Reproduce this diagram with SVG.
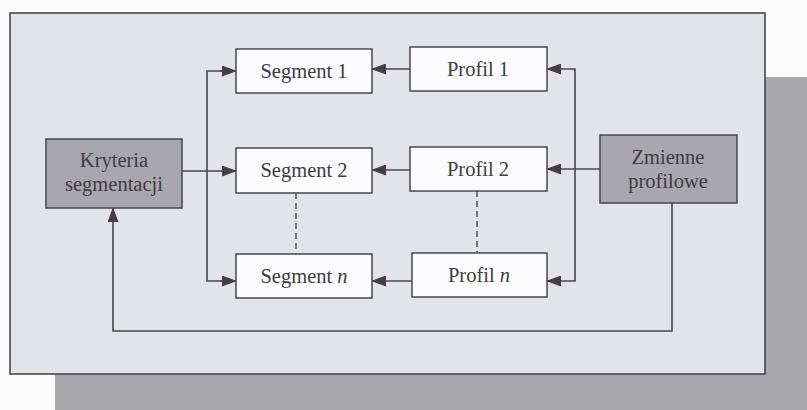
<svg xmlns="http://www.w3.org/2000/svg" width="807" height="410" viewBox="0 0 807 410">
<defs>
<style>
.box{fill:#fbfbfd;stroke:#4a4550;stroke-width:1.5}
.dark{fill:#a8a6ae;stroke:#4a4550;stroke-width:1.5}
.t{font-family:"Liberation Serif","Times New Roman",serif;font-size:20.5px;fill:#403b46;text-anchor:middle}
.ln{fill:none;stroke:#4a4550;stroke-width:1.6}
.dash{fill:none;stroke:#4a4550;stroke-width:1.4;stroke-dasharray:6,4}
</style>
<marker id="ah" markerWidth="15" markerHeight="11" refX="14" refY="5.5" orient="auto" markerUnits="userSpaceOnUse">
<path d="M0,0 L15,5.5 L0,11 Z" fill="#4a3a4a"/>
</marker>
</defs>
<rect x="0" y="0" width="807" height="410" fill="#fcfcfc"/>
<rect x="55" y="77" width="752" height="333" fill="#a9a8ad"/>
<rect x="10" y="13" width="755" height="361" fill="#e3e3ea" stroke="#4a4550" stroke-width="1.6"/>

<g id="connectors">
<path class="ln" d="M236,71 L207,71 L207,281 L236,281"/>
<line class="ln" x1="220" y1="71" x2="236" y2="71" marker-end="url(#ah)"/>
<line class="ln" x1="220" y1="281" x2="236" y2="281" marker-end="url(#ah)"/>
<line class="ln" x1="182" y1="171" x2="236" y2="171" marker-end="url(#ah)"/>
<line class="ln" x1="410" y1="69" x2="372" y2="69" marker-end="url(#ah)"/>
<line class="ln" x1="410" y1="170" x2="372" y2="170" marker-end="url(#ah)"/>
<line class="ln" x1="412" y1="281" x2="372" y2="281" marker-end="url(#ah)"/>
<path class="ln" d="M547,69 L575,69 L575,281 L547,281"/>
<line class="ln" x1="560" y1="69" x2="547" y2="69" marker-end="url(#ah)"/>
<line class="ln" x1="560" y1="281" x2="547" y2="281" marker-end="url(#ah)"/>
<line class="ln" x1="600" y1="169" x2="547" y2="169" marker-end="url(#ah)"/>
<path class="ln" d="M672,203 L672,331 L113,331 L113,208" marker-end="url(#ah)"/>
<line class="dash" x1="296" y1="193" x2="296" y2="254"/>
<line class="dash" x1="477" y1="191" x2="477" y2="253"/>
</g>

<g id="kryteria">
<rect class="dark" x="46" y="139" width="136" height="69"/>
<text class="t" x="114" y="167">Kryteria</text>
<text class="t" x="114" y="191">segmentacji</text>
</g>
<g id="zmienne">
<rect class="dark" x="600" y="135" width="137" height="68"/>
<text class="t" x="668" y="164">Zmienne</text>
<text class="t" x="668" y="188">profilowe</text>
</g>
<g id="segment1">
<rect class="box" x="236" y="49" width="136" height="44"/>
<text class="t" x="304" y="78">Segment 1</text>
</g>
<g id="segment2">
<rect class="box" x="236" y="148" width="136" height="45"/>
<text class="t" x="304" y="177">Segment 2</text>
</g>
<g id="segmentn">
<rect class="box" x="236" y="254" width="136" height="44"/>
<text class="t" x="304" y="283">Segment <tspan font-style="italic">n</tspan></text>
</g>
<g id="profil1">
<rect class="box" x="410" y="47" width="137" height="44"/>
<text class="t" x="478" y="76">Profil 1</text>
</g>
<g id="profil2">
<rect class="box" x="410" y="147" width="137" height="44"/>
<text class="t" x="478" y="176">Profil 2</text>
</g>
<g id="profiln">
<rect class="box" x="412" y="253" width="135" height="44"/>
<text class="t" x="479" y="282">Profil <tspan font-style="italic">n</tspan></text>
</g>
</svg>
